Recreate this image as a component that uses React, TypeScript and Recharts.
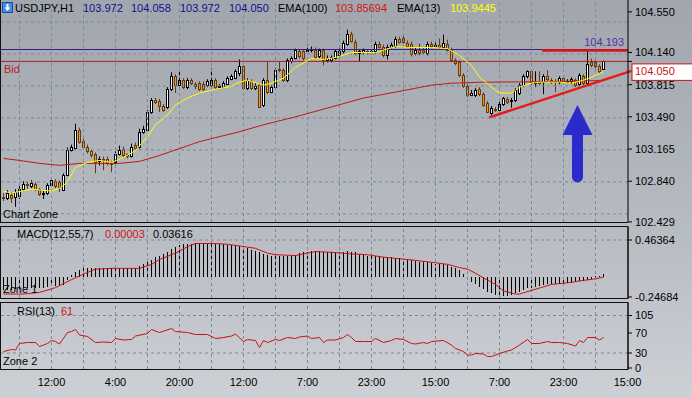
import React from 'react';
import { ComposedChart, Bar, Line, XAxis, YAxis, ReferenceLine, ReferenceDot } from 'recharts';

const FONT = '"Liberation Sans", Arial, sans-serif';
const GRID = '#7e8896';
const NAVY = '#10108c';

// ---------- data ----------
const opens = [
  102.68, 102.67, 102.70, 102.68, 102.69, 102.76, 102.81, 102.79, 102.81, 102.76,
  102.71, 102.72, 102.80, 102.84, 102.83, 102.75, 102.90, 103.16, 103.18, 103.36,
  103.25, 103.19, 103.14, 103.11, 103.04, 103.06, 103.06, 103.02, 103.03, 103.11,
  103.17, 103.11, 103.09, 103.21, 103.19, 103.34, 103.36, 103.54, 103.66, 103.65,
  103.60, 103.59, 103.77, 103.90, 103.81, 103.86, 103.79, 103.86, 103.82, 103.83,
  103.82, 103.81, 103.81, 103.86, 103.79, 103.79, 103.82, 103.87, 103.88, 103.93,
  104.00, 103.78, 103.85, 103.78, 103.81, 103.61, 103.86, 103.74, 103.79, 103.97,
  103.96, 103.86, 104.05, 104.08, 104.15, 104.15, 104.15, 104.16, 104.17, 104.10,
  104.16, 104.06, 104.06, 104.08, 104.11, 104.15, 104.23, 104.33, 104.25, 104.13,
  104.14, 104.15, 104.14, 104.15, 104.23, 104.20, 104.11, 104.20, 104.21, 104.28,
  104.29, 104.24, 104.23, 104.13, 104.17, 104.17, 104.13, 104.23, 104.21, 104.22,
  104.20, 104.23, 104.17, 104.06, 104.04, 103.91, 103.80, 103.71, 103.71, 103.77,
  103.72, 103.63, 103.53, 103.57, 103.56, 103.62, 103.67, 103.65, 103.66, 103.73,
  103.81, 103.90, 103.95, 103.83, 103.84, 103.84, 103.90, 103.86, 103.85, 103.84,
  103.88, 103.84, 103.85, 103.86, 103.82, 103.90, 103.83, 104.04, 104.04, 104.00,
  103.972,
];
const highs = [
  102.72, 102.75, 102.73, 102.76, 102.79, 102.84, 102.84, 102.85, 102.83, 102.77,
  102.74, 102.82, 102.87, 102.86, 102.85, 102.92, 103.18, 103.21, 103.42, 103.38,
  103.27, 103.21, 103.16, 103.13, 103.09, 103.09, 103.09, 103.04, 103.14, 103.20,
  103.19, 103.12, 103.22, 103.23, 103.37, 103.40, 103.56, 103.68, 103.68, 103.67,
  103.62, 103.79, 103.94, 103.92, 103.95, 103.88, 103.88, 103.88, 103.84, 103.85,
  103.85, 103.87, 103.98, 103.88, 103.82, 103.85, 103.90, 103.92, 103.97, 104.07,
  104.02, 103.88, 103.87, 103.83, 103.83, 103.88, 104.05, 103.81, 103.98, 104.05,
  103.98, 104.08, 104.10, 104.18, 104.17, 104.17, 104.22, 104.20, 104.19, 104.18,
  104.18, 104.11, 104.11, 104.17, 104.18, 104.26, 104.37, 104.35, 104.27, 104.17,
  104.18, 104.17, 104.17, 104.25, 104.25, 104.22, 104.22, 104.24, 104.30, 104.30,
  104.32, 104.26, 104.25, 104.19, 104.23, 104.19, 104.25, 104.25, 104.24, 104.28,
  104.32, 104.27, 104.19, 104.08, 104.06, 103.93, 103.82, 103.76, 103.78, 103.79,
  103.74, 103.65, 103.60, 103.59, 103.64, 103.69, 103.69, 103.68, 103.78, 103.83,
  103.92, 103.96, 103.97, 103.95, 103.95, 103.92, 103.96, 103.88, 103.87, 103.90,
  103.90, 103.87, 103.89, 103.88, 103.93, 103.92, 104.17, 104.08, 104.06, 104.02,
  104.058,
];
const lows = [
  102.64, 102.65, 102.62, 102.58, 102.66, 102.74, 102.76, 102.77, 102.74, 102.69,
  102.66, 102.70, 102.79, 102.77, 102.73, 102.74, 102.89, 103.14, 103.16, 103.22,
  103.17, 103.12, 103.08, 102.92, 103.00, 102.95, 103.00, 102.93, 103.01, 103.10,
  103.08, 103.07, 103.08, 103.16, 103.17, 103.32, 103.35, 103.52, 103.62, 103.54,
  103.54, 103.57, 103.75, 103.73, 103.80, 103.77, 103.77, 103.81, 103.77, 103.75,
  103.75, 103.79, 103.79, 103.77, 103.77, 103.78, 103.81, 103.86, 103.87, 103.90,
  103.76, 103.76, 103.76, 103.76, 103.58, 103.59, 103.72, 103.73, 103.77, 103.94,
  103.84, 103.84, 104.03, 104.07, 104.08, 104.06, 104.13, 104.14, 104.07, 104.08,
  104.01, 104.04, 104.04, 104.07, 104.09, 104.13, 104.21, 104.24, 104.11, 104.05,
  104.12, 104.12, 104.12, 104.13, 104.18, 104.09, 104.07, 104.18, 104.19, 104.23,
  104.23, 104.19, 104.10, 104.11, 104.11, 104.12, 104.11, 104.19, 104.19, 104.18,
  104.18, 104.15, 104.04, 104.01, 103.89, 103.78, 103.69, 103.70, 103.69, 103.70,
  103.59, 103.53, 103.51, 103.54, 103.54, 103.60, 103.62, 103.58, 103.64, 103.71,
  103.79, 103.88, 103.81, 103.79, 103.81, 103.72, 103.85, 103.82, 103.74, 103.82,
  103.82, 103.83, 103.82, 103.79, 103.80, 103.81, 103.81, 103.99, 103.98, 103.93,
  103.972,
];
const closes = [
  102.67, 102.72, 102.67, 102.73, 102.76, 102.81, 102.80, 102.82, 102.76, 102.71,
  102.72, 102.80, 102.85, 102.79, 102.78, 102.90, 103.16, 103.19, 103.36, 103.24,
  103.19, 103.14, 103.10, 103.03, 103.06, 103.05, 103.02, 103.01, 103.11, 103.16,
  103.10, 103.09, 103.19, 103.18, 103.34, 103.37, 103.54, 103.66, 103.64, 103.60,
  103.56, 103.77, 103.90, 103.81, 103.86, 103.79, 103.86, 103.83, 103.80, 103.77,
  103.77, 103.85, 103.86, 103.79, 103.80, 103.83, 103.88, 103.90, 103.95, 104.00,
  103.78, 103.86, 103.78, 103.80, 103.59, 103.86, 103.74, 103.79, 103.96, 103.96,
  103.86, 104.06, 104.08, 104.16, 104.10, 104.08, 104.16, 104.17, 104.09, 104.16,
  104.06, 104.08, 104.09, 104.15, 104.15, 104.24, 104.33, 104.26, 104.13, 104.15,
  104.16, 104.14, 104.15, 104.23, 104.20, 104.11, 104.20, 104.22, 104.28, 104.25,
  104.25, 104.21, 104.12, 104.17, 104.13, 104.14, 104.23, 104.21, 104.22, 104.20,
  104.24, 104.17, 104.06, 104.03, 103.91, 103.80, 103.71, 103.73, 103.76, 103.72,
  103.61, 103.54, 103.58, 103.56, 103.62, 103.68, 103.64, 103.66, 103.76, 103.81,
  103.90, 103.95, 103.83, 103.84, 103.83, 103.90, 103.87, 103.84, 103.84, 103.88,
  103.84, 103.85, 103.87, 103.81, 103.91, 103.83, 104.02, 104.01, 104.00, 103.95,
  104.05,
];
const macdHist = [
  -0.16, -0.16, -0.16, -0.15, -0.15, -0.14, -0.14, -0.13, -0.13, -0.13,
  -0.13, -0.12, -0.11, -0.11, -0.11, -0.10, -0.04, 0.03, 0.07, 0.09,
  0.11, 0.12, 0.12, 0.12, 0.12, 0.12, 0.12, 0.11, 0.12, 0.12,
  0.12, 0.11, 0.12, 0.12, 0.14, 0.16, 0.19, 0.22, 0.25, 0.27,
  0.29, 0.32, 0.35, 0.38, 0.40, 0.41, 0.42, 0.42, 0.43, 0.43,
  0.43, 0.43, 0.43, 0.42, 0.41, 0.41, 0.40, 0.40, 0.39, 0.39,
  0.37, 0.36, 0.34, 0.33, 0.31, 0.29, 0.28, 0.27, 0.26, 0.26,
  0.26, 0.26, 0.27, 0.28, 0.30, 0.31, 0.32, 0.33, 0.33, 0.33,
  0.32, 0.31, 0.31, 0.31, 0.31, 0.32, 0.33, 0.32, 0.31, 0.29,
  0.28, 0.27, 0.27, 0.27, 0.26, 0.25, 0.25, 0.25, 0.24, 0.24,
  0.23, 0.22, 0.21, 0.20, 0.19, 0.19, 0.19, 0.18, 0.17, 0.16,
  0.16, 0.15, 0.13, 0.12, 0.09, 0.04, -0.02, -0.06, -0.09, -0.12,
  -0.15, -0.18, -0.20, -0.22, -0.23, -0.23, -0.23, -0.22, -0.20, -0.18,
  -0.16, -0.14, -0.13, -0.12, -0.11, -0.10, -0.09, -0.09, -0.08, -0.08,
  -0.07, -0.07, -0.07, -0.06, -0.05, -0.05, -0.03, -0.02, 0.01, 0.02,
  0.03616,
];
const macdSignalPts: [number, number][] = [
  [0, -0.21], [5, -0.21], [9, -0.19], [13, -0.13], [17, -0.03], [21, 0.06], [23, 0.10], [27, 0.11],
  [34, 0.11], [37, 0.16], [39, 0.22], [43, 0.30], [46, 0.38], [48, 0.42], [53, 0.42], [56, 0.41],
  [59, 0.39], [63, 0.36], [66, 0.30], [68, 0.28], [73, 0.27], [76, 0.30], [78, 0.32], [82, 0.31],
  [87, 0.29], [91, 0.28], [95, 0.25], [99, 0.23], [103, 0.21], [108, 0.18], [111, 0.16], [114, 0.12],
  [116, 0.10], [118, 0.05], [120, -0.01], [123, -0.09], [125, -0.17], [128, -0.21], [129, -0.21],
  [133, -0.15], [137, -0.09], [141, -0.07], [145, -0.04], [148, -0.02], [150, 0.00003],
];
const ema13Pts: [number, number][] = [
  [0, 102.74], [2, 102.72], [7, 102.76], [12, 102.74], [14, 102.77], [16, 102.83], [18, 102.98],
  [21, 103.03], [24, 103.05], [27, 103.03], [30, 103.08], [33, 103.15], [36, 103.29], [38, 103.41],
  [41, 103.51], [43, 103.61], [46, 103.68], [49, 103.73], [52, 103.76], [57, 103.80], [59, 103.84],
  [61, 103.86], [65, 103.81], [67, 103.83], [70, 103.88], [73, 103.99], [77, 104.08], [80, 104.07],
  [83, 104.09], [87, 104.14], [90, 104.14], [93, 104.14], [98, 104.20], [102, 104.19], [107, 104.19],
  [111, 104.18], [114, 104.11], [117, 104.01], [119, 103.89], [122, 103.79], [124, 103.73],
  [127, 103.73], [129, 103.79], [132, 103.83], [134, 103.84], [139, 103.84], [142, 103.83],
  [145, 103.86], [147, 103.89], [150, 103.9445],
];
const ema100Pts: [number, number][] = [
  [0, 103.07], [4, 103.05], [9, 103.02], [14, 103.00], [19, 103.02], [24, 103.02], [29, 103.02],
  [34, 103.04], [39, 103.10], [44, 103.17], [49, 103.24], [54, 103.29], [59, 103.34], [65, 103.41],
  [73, 103.49], [82, 103.59], [90, 103.68], [98, 103.74], [107, 103.81], [112, 103.83],
  [120, 103.84], [135, 103.845], [150, 103.85694],
];
const rsiPts: [number, number][] = [
  [0, 33], [2, 37], [3, 36], [4, 49], [6, 51], [8, 51], [9, 43], [11, 49], [12, 55], [13, 53], [14, 48],
  [16, 71], [17, 73], [18, 77], [19, 66], [21, 63], [23, 51], [25, 52], [27, 51], [28, 59], [30, 56],
  [32, 57], [33, 64], [36, 69], [37, 77], [39, 71], [42, 79], [43, 73], [46, 71], [48, 67], [51, 67],
  [53, 59], [55, 61], [57, 64], [58, 68], [60, 53], [61, 57], [63, 55], [64, 41], [65, 55], [66, 51],
  [68, 57], [69, 55], [71, 61], [73, 59], [74, 62], [76, 64], [77, 59], [79, 61], [80, 51], [81, 56],
  [83, 56], [85, 61], [86, 67], [87, 61], [88, 53], [90, 53], [92, 53], [93, 59], [95, 51], [97, 55],
  [98, 59], [100, 57], [102, 49], [103, 48], [105, 51], [106, 49], [107, 53], [110, 55], [112, 46],
  [113, 39], [115, 33], [116, 26], [117, 26], [118, 29], [120, 28], [121, 23], [122, 23], [124, 29],
  [126, 34], [127, 36], [129, 46], [131, 57], [132, 49], [134, 49], [136, 53], [137, 51], [139, 51],
  [141, 49], [143, 44], [144, 55], [145, 51], [146, 61], [148, 61], [149, 56], [150, 61],
];

const priceTicks = [104.55, 104.14, 104.05, 103.815, 103.49, 103.165, 102.84, 102.429];
const priceGrid = [104.448, 104.125, 103.802, 103.479, 103.156, 102.833, 102.51];
const macdTicks = [0.46364, -0.24684];
const rsiTicks = [105, 70, 30, 0];
const rsiGrid = [105, 30];
const timeTickIdx = [12, 28, 44, 60, 76, 92, 108, 124, 140, 156];
const timeLabels = ['12:00', '4:00', '20:00', '12:00', '7:00', '23:00', '15:00', '7:00', '23:00', '15:00'];
const gridIdx = [4, 12, 20, 28, 36, 44, 52, 60, 68, 76, 84, 92, 100, 108, 116, 124, 132, 140, 148];

const bidPrice = 104.05;
const levelPrice = 104.17;
const levelLabel = '104.193';
const resistance = { from: 134.6, to: 156.125, price: 104.16 };
const trendStart = { x: 121.45, y: 103.485 };
const trendEnd = { x: 157, y: 103.954 };
const arrowTip = { x: 143.5, y: 103.61 };

const X_DOMAIN: [number, number] = [-0.875, 156.125];
const PRICE_DOMAIN: [number, number] = [102.428, 104.67];
const MACD_DOMAIN: [number, number] = [-0.2593, 0.6257];
const RSI_DOMAIN: [number, number] = [-2, 130];

type Row = {
  i: number; o: number; h: number; l: number; c: number; range: [number, number];
  macd: number; sig: number | null; ema13: number | null; ema100: number | null; rsi: number | null;
};
const rows: Row[] = opens.map((o, i) => ({
  i, o, h: highs[i], l: lows[i], c: closes[i], range: [lows[i], highs[i]],
  macd: macdHist[i], sig: null, ema13: null, ema100: null, rsi: null,
}));
macdSignalPts.forEach(([i, v]) => { rows[i].sig = v; });
ema13Pts.forEach(([i, v]) => { rows[i].ema13 = v; });
ema100Pts.forEach(([i, v]) => { rows[i].ema100 = v; });
rsiPts.forEach(([i, v]) => { rows[i].rsi = v; });

// ---------- shapes ----------
function Candle(props: any) {
  const { x, y, width, height, payload } = props;
  if (x == null || y == null) return null;
  const top = Math.min(y, y + height);
  const bot = Math.max(y, y + height);
  const cx = Math.round(x + width / 2 - 0.5) + 0.5;
  const span = payload.h - payload.l || 1e-9;
  const py = (p: number) => top + ((payload.h - p) / span) * (bot - top);
  const yo = py(payload.o);
  const yc = py(payload.c);
  const bull = payload.c >= payload.o;
  const edge = bull ? '#000000' : '#6a3a0c';
  const fill = bull ? '#ffffff' : '#ec9a20';
  const bTop = Math.round(Math.min(yo, yc)) + 0.5;
  const bBot = Math.round(Math.max(yo, yc)) + 0.5;
  return (
    <g>
      <line x1={cx} x2={cx} y1={top} y2={bot} stroke={edge} strokeWidth={1} />
      {bBot - bTop >= 1 ? (
        <rect x={cx - 1} y={bTop} width={2} height={bBot - bTop} fill={fill} stroke={edge} strokeWidth={1} />
      ) : (
        <line x1={cx - 1.5} x2={cx + 1.5} y1={bTop} y2={bTop} stroke={edge} strokeWidth={1} />
      )}
    </g>
  );
}

function HistBar(props: any) {
  const { x, y, width, height } = props;
  if (x == null || y == null || !height) return null;
  const px = Math.round(x + width / 2 - 0.5);
  const top = Math.round(Math.min(y, y + height));
  const bot = Math.round(Math.max(y, y + height));
  return <rect x={px} y={top} width={1} height={Math.max(bot - top, 1)} fill="#000000" shapeRendering="crispEdges" />;
}

function AxisTick(props: any) {
  const { x, y, payload, digits, boxValue } = props;
  const v = payload.value as number;
  const label = v.toFixed(digits);
  if (boxValue != null && Math.abs(v - boxValue) < 1e-9) {
    return (
      <g>
        <rect x={x - 3} y={y + 2.5} width={62} height={16.5} fill="#ffffff" stroke="#c81414" strokeWidth={1} />
        <text x={x} y={y + 14} fill="#c81414" fontSize={11} fontFamily={FONT}>{label}</text>
      </g>
    );
  }
  return (
    <text x={x} y={y} dy="0.36em" fill="#000" fontSize={11} fontFamily={FONT}>{label}</text>
  );
}

function ArrowShape(props: any) {
  const { cx, cy } = props;
  if (cx == null || cy == null) return null;
  const d = `M${cx},${cy} L${cx + 15},${cy + 30} L${cx + 5.5},${cy + 30} L${cx + 5.5},${cy + 72} ` +
    `A5.5,5.5 0 0 1 ${cx - 5.5},${cy + 72} L${cx - 5.5},${cy + 30} L${cx - 15},${cy + 30} Z`;
  return <path d={d} fill="#2b2bcc" />;
}

const vGrid = (keyPrefix: string) =>
  gridIdx.map((g) => (
    <ReferenceLine key={`${keyPrefix}-v${g}`} x={g} stroke={GRID} strokeDasharray="3 3" strokeWidth={1} />
  ));

export default function App() {
  const last = rows.length - 1;
  const titleItems = [
    { text: 'USDJPY,H1', x: 15, color: '#000' },
    { text: opens[last].toFixed(3), x: 83, color: NAVY },
    { text: highs[last].toFixed(3), x: 131, color: NAVY },
    { text: lows[last].toFixed(3), x: 180, color: NAVY },
    { text: closes[last].toFixed(3), x: 229, color: NAVY },
    { text: 'EMA(100)', x: 278, color: '#000' },
    { text: ema100Pts[ema100Pts.length - 1][1].toFixed(5), x: 335, color: '#d01414' },
    { text: 'EMA(13)', x: 397, color: '#000' },
    { text: ema13Pts[ema13Pts.length - 1][1].toFixed(4), x: 450, color: '#ffff00' },
  ];
  const sigLast = macdSignalPts[macdSignalPts.length - 1][1];
  const rsiLast = rsiPts[rsiPts.length - 1][1];

  return (
    <div
      style={{
        position: 'fixed', left: 0, top: 0, width: 692, height: 398, overflow: 'hidden',
        background: 'linear-gradient(to bottom, #a1a6ae 0%, #b6bac1 55%, #cdd0d5 100%)',
        fontFamily: FONT,
      }}
    >
      {/* main price panel */}
      <div style={{ position: 'absolute', left: 0, top: 0 }}>
        <ComposedChart width={692} height={230} data={rows} margin={{ top: 0, right: 0, bottom: 8, left: 0 }}>
          <XAxis type="number" dataKey="i" domain={X_DOMAIN} allowDataOverflow hide />
          <YAxis
            type="number" orientation="right" width={64} domain={PRICE_DOMAIN} allowDataOverflow
            ticks={priceTicks} interval={0} tickSize={4} tickMargin={3}
            tick={<AxisTick digits={3} boxValue={bidPrice} />}
            axisLine={{ stroke: '#000' }} tickLine={{ stroke: '#000' }}
          />
          {vGrid('m')}
          {priceGrid.map((p) => (
            <ReferenceLine key={`hg${p}`} y={p} stroke={GRID} strokeDasharray="3 3" />
          ))}
          <ReferenceLine
            y={levelPrice} stroke="#3a1c82" strokeWidth={1}
            label={{ value: levelLabel, position: 'insideBottomRight', offset: 4, fill: '#5a2ea6', fontSize: 11 }}
          />
          <ReferenceLine
            y={bidPrice} stroke="#b01c1c" strokeWidth={1}
            label={{ value: 'Bid', position: 'insideTopLeft', offset: 4, fill: '#c02020', fontSize: 11 }}
          />
          <Line type="linear" dataKey="ema100" stroke="#c01818" strokeWidth={1} dot={false} activeDot={false} connectNulls isAnimationActive={false} />
          <Bar dataKey="range" barSize={3} shape={(p: any) => <Candle {...p} />} isAnimationActive={false} />
          <Line type="linear" dataKey="ema13" stroke="#ffff00" strokeWidth={1} dot={false} activeDot={false} connectNulls isAnimationActive={false} />
          <ReferenceLine
            segment={[{ x: resistance.from, y: resistance.price }, { x: resistance.to, y: resistance.price }]}
            stroke="#e01515" strokeWidth={2.5}
          />
          <ReferenceLine
            segment={[trendStart, trendEnd]} stroke="#e81a1a" strokeWidth={2.5} ifOverflow="visible"
          />
          <ReferenceDot x={arrowTip.x} y={arrowTip.y} r={1} shape={(p: any) => <ArrowShape {...p} />} />
        </ComposedChart>
      </div>

      {/* MACD panel */}
      <div style={{ position: 'absolute', left: 0, top: 227 }}>
        <ComposedChart width={692} height={78} data={rows} margin={{ top: 0, right: 0, bottom: 7, left: 0 }}>
          <XAxis type="number" dataKey="i" domain={X_DOMAIN} allowDataOverflow hide />
          <YAxis
            type="number" orientation="right" width={64} domain={MACD_DOMAIN} allowDataOverflow
            ticks={macdTicks} interval={0} tickSize={4} tickMargin={3}
            tick={<AxisTick digits={5} />}
            axisLine={{ stroke: '#000' }} tickLine={{ stroke: '#000' }}
          />
          {vGrid('d')}
          <ReferenceLine y={macdTicks[0]} stroke={GRID} strokeDasharray="3 3" />
          <Bar dataKey="macd" barSize={1} fill="#000000" shape={(p: any) => <HistBar {...p} />} isAnimationActive={false} />
          <Line type="linear" dataKey="sig" stroke="#d01010" strokeWidth={1} dot={false} activeDot={false} connectNulls isAnimationActive={false} />
        </ComposedChart>
      </div>

      {/* RSI panel */}
      <div style={{ position: 'absolute', left: 0, top: 303 }}>
        <ComposedChart width={692} height={95} data={rows} margin={{ top: 0, right: 0, bottom: 0, left: 0 }}>
          <XAxis
            type="number" dataKey="i" domain={X_DOMAIN} allowDataOverflow height={29}
            ticks={timeTickIdx} interval={0} axisLine={false} tickLine={false} tickSize={5} tickMargin={4}
            tick={{ fontSize: 11, fill: '#000', fontFamily: FONT }}
            tickFormatter={(v: number) => timeLabels[timeTickIdx.indexOf(v)] ?? ''}
          />
          <YAxis
            type="number" orientation="right" width={64} domain={RSI_DOMAIN} allowDataOverflow
            ticks={rsiTicks} interval={0} tickSize={4} tickMargin={3}
            tick={<AxisTick digits={0} />}
            axisLine={{ stroke: '#000' }} tickLine={{ stroke: '#000' }}
          />
          {vGrid('r')}
          {rsiGrid.map((g) => (
            <ReferenceLine key={`rg${g}`} y={g} stroke={GRID} strokeDasharray="3 3" />
          ))}
          <Line type="linear" dataKey="rsi" stroke="#c81212" strokeWidth={1} dot={false} activeDot={false} connectNulls isAnimationActive={false} />
        </ComposedChart>
      </div>

      {/* frames and captions */}
      <svg width={692} height={398} style={{ position: 'absolute', left: 0, top: 0, pointerEvents: 'none' }}>
        <g stroke="#111" strokeWidth={1} fill="none">
          <line x1={0.5} y1={0} x2={0.5} y2={222.5} />
          <line x1={0} y1={222.5} x2={628} y2={222.5} />
          <rect x={0.5} y={226.5} width={627.5} height={72} />
          <rect x={0.5} y={302.5} width={627.5} height={67} />
        </g>
        <g>
          <rect x={2.5} y={2.5} width={10} height={10} fill="#3d8fe4" stroke="#1d4f9e" />
          <rect x={6.5} y={4} width={2} height={4} fill="#fff" />
          <path d="M4.5,7.5 L10.5,7.5 L7.5,11 Z" fill="#fff" />
        </g>
        {titleItems.map((t) => (
          <text key={t.x} x={t.x} y={12} fontSize={11} fill={t.color} fontFamily={FONT}>{t.text}</text>
        ))}
        <text x={3} y={218} fontSize={11} fill="#000" fontFamily={FONT}>Chart Zone</text>
        <text x={17} y={238} fontSize={11} fill="#000" fontFamily={FONT}>MACD(12,55,7)</text>
        <text x={105} y={238} fontSize={11} fill="#d01414" fontFamily={FONT}>{sigLast.toFixed(5)}</text>
        <text x={153} y={238} fontSize={11} fill="#000" fontFamily={FONT}>{macdHist[last].toFixed(5)}</text>
        <text x={3} y={293} fontSize={11} fill="#000" fontFamily={FONT}>Zone 1</text>
        <text x={17} y={315} fontSize={11} fill="#000" fontFamily={FONT}>RSI(13)</text>
        <text x={61} y={315} fontSize={11} fill="#d01414" fontFamily={FONT}>{String(rsiLast)}</text>
        <text x={3} y={365} fontSize={11} fill="#000" fontFamily={FONT}>Zone 2</text>
      </svg>
    </div>
  );
}
